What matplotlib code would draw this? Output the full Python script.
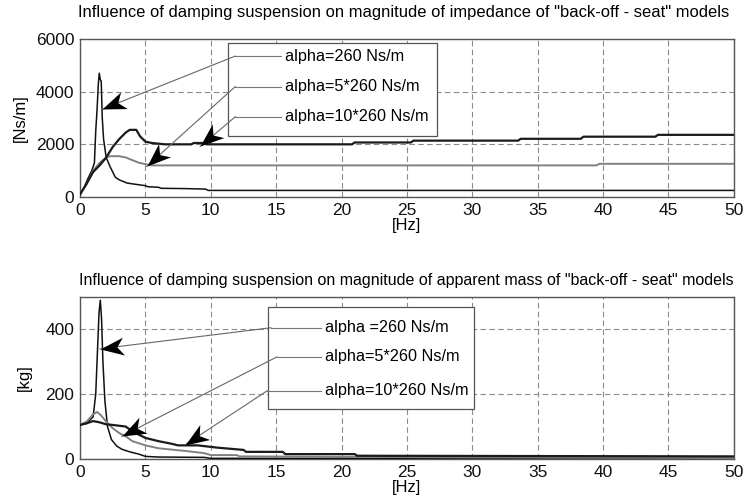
import math
import matplotlib
matplotlib.use("Agg")
import matplotlib.pyplot as plt
from matplotlib.patches import Rectangle
from matplotlib.path import Path
from matplotlib.markers import MarkerStyle
from matplotlib.transforms import Affine2D

plt.rcParams['font.family'] = ['Liberation Sans', 'DejaVu Sans']

# ---------------- data ----------------
labels_top = ["alpha=260 Ns/m", "alpha=5*260 Ns/m", "alpha=10*260 Ns/m"]
labels_bot = ["alpha =260 Ns/m", "alpha=5*260 Ns/m", "alpha=10*260 Ns/m"]

# impedance [Ns/m]
f_imp_1 = [0, 0.3, 0.6, 0.9, 1.1, 1.2, 1.3, 1.4, 1.47, 1.55, 1.62, 1.7, 1.8, 2.0, 2.3, 2.7, 3.0, 3.6, 4.0, 5.0, 5.2, 6.0, 6.2, 8.0, 9.6, 9.8, 50]
v_imp_1 = [100, 350, 700, 1000, 1300, 2500, 3300, 4300, 4700, 4450, 4400, 3000, 2200, 1500, 1150, 750, 650, 530, 500, 430, 390, 370, 330, 320, 300, 250, 250]

f_imp_5 = [0, 0.5, 1.0, 1.5, 2.0, 2.3, 3.0, 3.5, 4.0, 4.5, 5.0, 5.5, 39.5, 39.7, 50]
v_imp_5 = [100, 500, 1000, 1300, 1500, 1550, 1550, 1500, 1400, 1300, 1250, 1200, 1200, 1260, 1260]

f_imp_10 = [0, 0.5, 1.0, 1.5, 2.0, 2.5, 3.0, 3.5, 3.8, 4.3, 4.6, 5.0, 5.5, 6.5, 8.5, 8.7, 9.5, 9.7,
            20.8, 21.0, 25.3, 25.5, 33.5, 33.7, 38.3, 38.5, 44.0, 44.2, 50]
v_imp_10 = [100, 500, 950, 1200, 1500, 1900, 2200, 2450, 2550, 2550, 2300, 2100, 2050, 2000, 2000, 2050, 2050, 2000,
            2000, 2070, 2070, 2140, 2140, 2210, 2210, 2290, 2290, 2360, 2360]

# apparent mass [kg]
f_m_1 = [0, 0.5, 1.0, 1.2, 1.35, 1.45, 1.55, 1.65, 1.75, 1.9, 2.1, 2.4, 2.8, 3.2, 3.8, 4.5, 5.0, 6.0, 9.5, 10, 50]
v_m_1 = [105, 110, 130, 200, 350, 450, 490, 430, 300, 180, 100, 60, 40, 30, 22, 15, 8, 6, 5, 2, 2]

f_m_5 = [0, 0.5, 1.0, 1.3, 1.6, 2.0, 2.5, 3.0, 3.5, 4.0, 5.0, 6.0, 8.0, 9.5, 10, 12.0, 12.2, 30, 38.5, 50]
v_m_5 = [105, 115, 138, 145, 135, 115, 95, 80, 70, 55, 42, 33, 25, 18, 12, 12, 8, 5, 4, 3]

f_m_10 = [0, 0.5, 1.0, 1.5, 2.0, 2.5, 3.5, 4.0, 4.5, 5.0, 6.0, 7.0, 7.5, 9.0, 10.5, 12.5, 12.7, 15.5, 15.7, 21, 21.2, 50]
v_m_10 = [105, 110, 117, 113, 107, 105, 100, 85, 75, 65, 55, 47, 42, 42, 35, 28, 22, 22, 15, 15, 10, 8]

x_ticks = [0, 5, 10, 15, 20, 25, 30, 35, 40, 45, 50]
y_ticks_top = [0, 2000, 4000, 6000]
y_ticks_bot = [0, 200, 400]

# ---------------- figure ----------------
fig = plt.figure(figsize=(7.48, 4.97), dpi=100)
ax1 = fig.add_axes([0.107, 0.6036, 0.874, 0.318])
ax2 = fig.add_axes([0.107, 0.0765, 0.874, 0.326])

styles = [dict(color='#111111', lw=1.1), dict(color='#808080', lw=1.4), dict(color='#1a1a1a', lw=1.6)]

def style_axes(ax, yticks, ylim):
    ax.set_xlim(0, 50)
    ax.set_ylim(*ylim)
    ax.set_xticks(x_ticks)
    ax.set_yticks(yticks)
    ax.grid(True, color='#8c8c8c', linestyle=(0, (5, 3)), linewidth=0.8)
    ax.tick_params(axis='both', labelsize=12.5, length=0, pad=4, colors='#111111')
    for s in ax.spines.values():
        s.set_color('#555555')
        s.set_linewidth(1.0)
    ax.set_xlabel('[Hz]', fontsize=12, labelpad=0)

style_axes(ax1, y_ticks_top, (0, 6000))
style_axes(ax2, y_ticks_bot, (0, 500))

for (f, v), st in zip([(f_imp_1, v_imp_1), (f_imp_5, v_imp_5), (f_imp_10, v_imp_10)], styles):
    ax1.plot(f, v, **st, zorder=3)
for (f, v), st in zip([(f_m_1, v_m_1), (f_m_5, v_m_5), (f_m_10, v_m_10)], styles):
    ax2.plot(f, v, **st, zorder=3)

fig.text(404 / 748, 1 - 13 / 497, 'Influence of damping suspension on magnitude of impedance of "back-off - seat" models',
         fontsize=11.9, ha='center', va='center')
fig.text(406 / 748, 1 - 280 / 497, 'Influence of damping suspension on magnitude of apparent mass of "back-off - seat" models',
         fontsize=11.5, ha='center', va='center')
ax1.set_ylabel('[Ns/m]', fontsize=12, labelpad=6)
ax2.set_ylabel('[kg]', fontsize=12, labelpad=10)

# stealth (notched) arrow-head marker, tip at origin pointing +x
head_path = Path([(0, 0), (-1, 0.38), (-0.72, 0), (-1, -0.38), (0, 0)],
                 [Path.MOVETO, Path.LINETO, Path.LINETO, Path.LINETO, Path.CLOSEPOLY])

def callout_legend(ax, box, starts, tips, seg_end, labels):
    bx0, by0, bx1, by1 = box
    ax.add_patch(Rectangle((bx0, by0), bx1 - bx0, by1 - by0, facecolor='white',
                           edgecolor='#555555', lw=0.9, zorder=5))
    for (sx, sy), (tx, ty), lab in zip(starts, tips, labels):
        ax.plot([sx, seg_end], [sy, sy], color='#777777', lw=0.8, zorder=6)
        ax.plot([sx, tx], [sy, ty], color='#666666', lw=0.8, zorder=7)
        p0 = ax.transData.transform((sx, sy))
        p1 = ax.transData.transform((tx, ty))
        ang = math.degrees(math.atan2(p1[1] - p0[1], p1[0] - p0[0]))
        m = MarkerStyle(head_path, transform=Affine2D().rotate_deg(ang))
        ax.plot([tx], [ty], marker=m, markersize=34, color='black',
                markeredgewidth=0, linestyle='none', zorder=8)
        ax.text(seg_end + 0.3, sy, lab, fontsize=11.7, va='center', ha='left', zorder=8)

callout_legend(ax1, (11.35, 2300, 27.3, 5830),
               [(11.87, 5350), (11.87, 4190), (11.87, 3045)],
               [(1.66, 3324), (5.1, 1160), (9.19, 1920)],
               15.4, labels_top)

callout_legend(ax2, (14.4, 155, 30.1, 470),
               [(14.6, 405), (15.06, 315), (14.3, 210)],
               [(1.53, 340), (3.19, 70), (8.04, 44)],
               18.4, labels_bot)

fig.savefig('out.png', dpi=100)
